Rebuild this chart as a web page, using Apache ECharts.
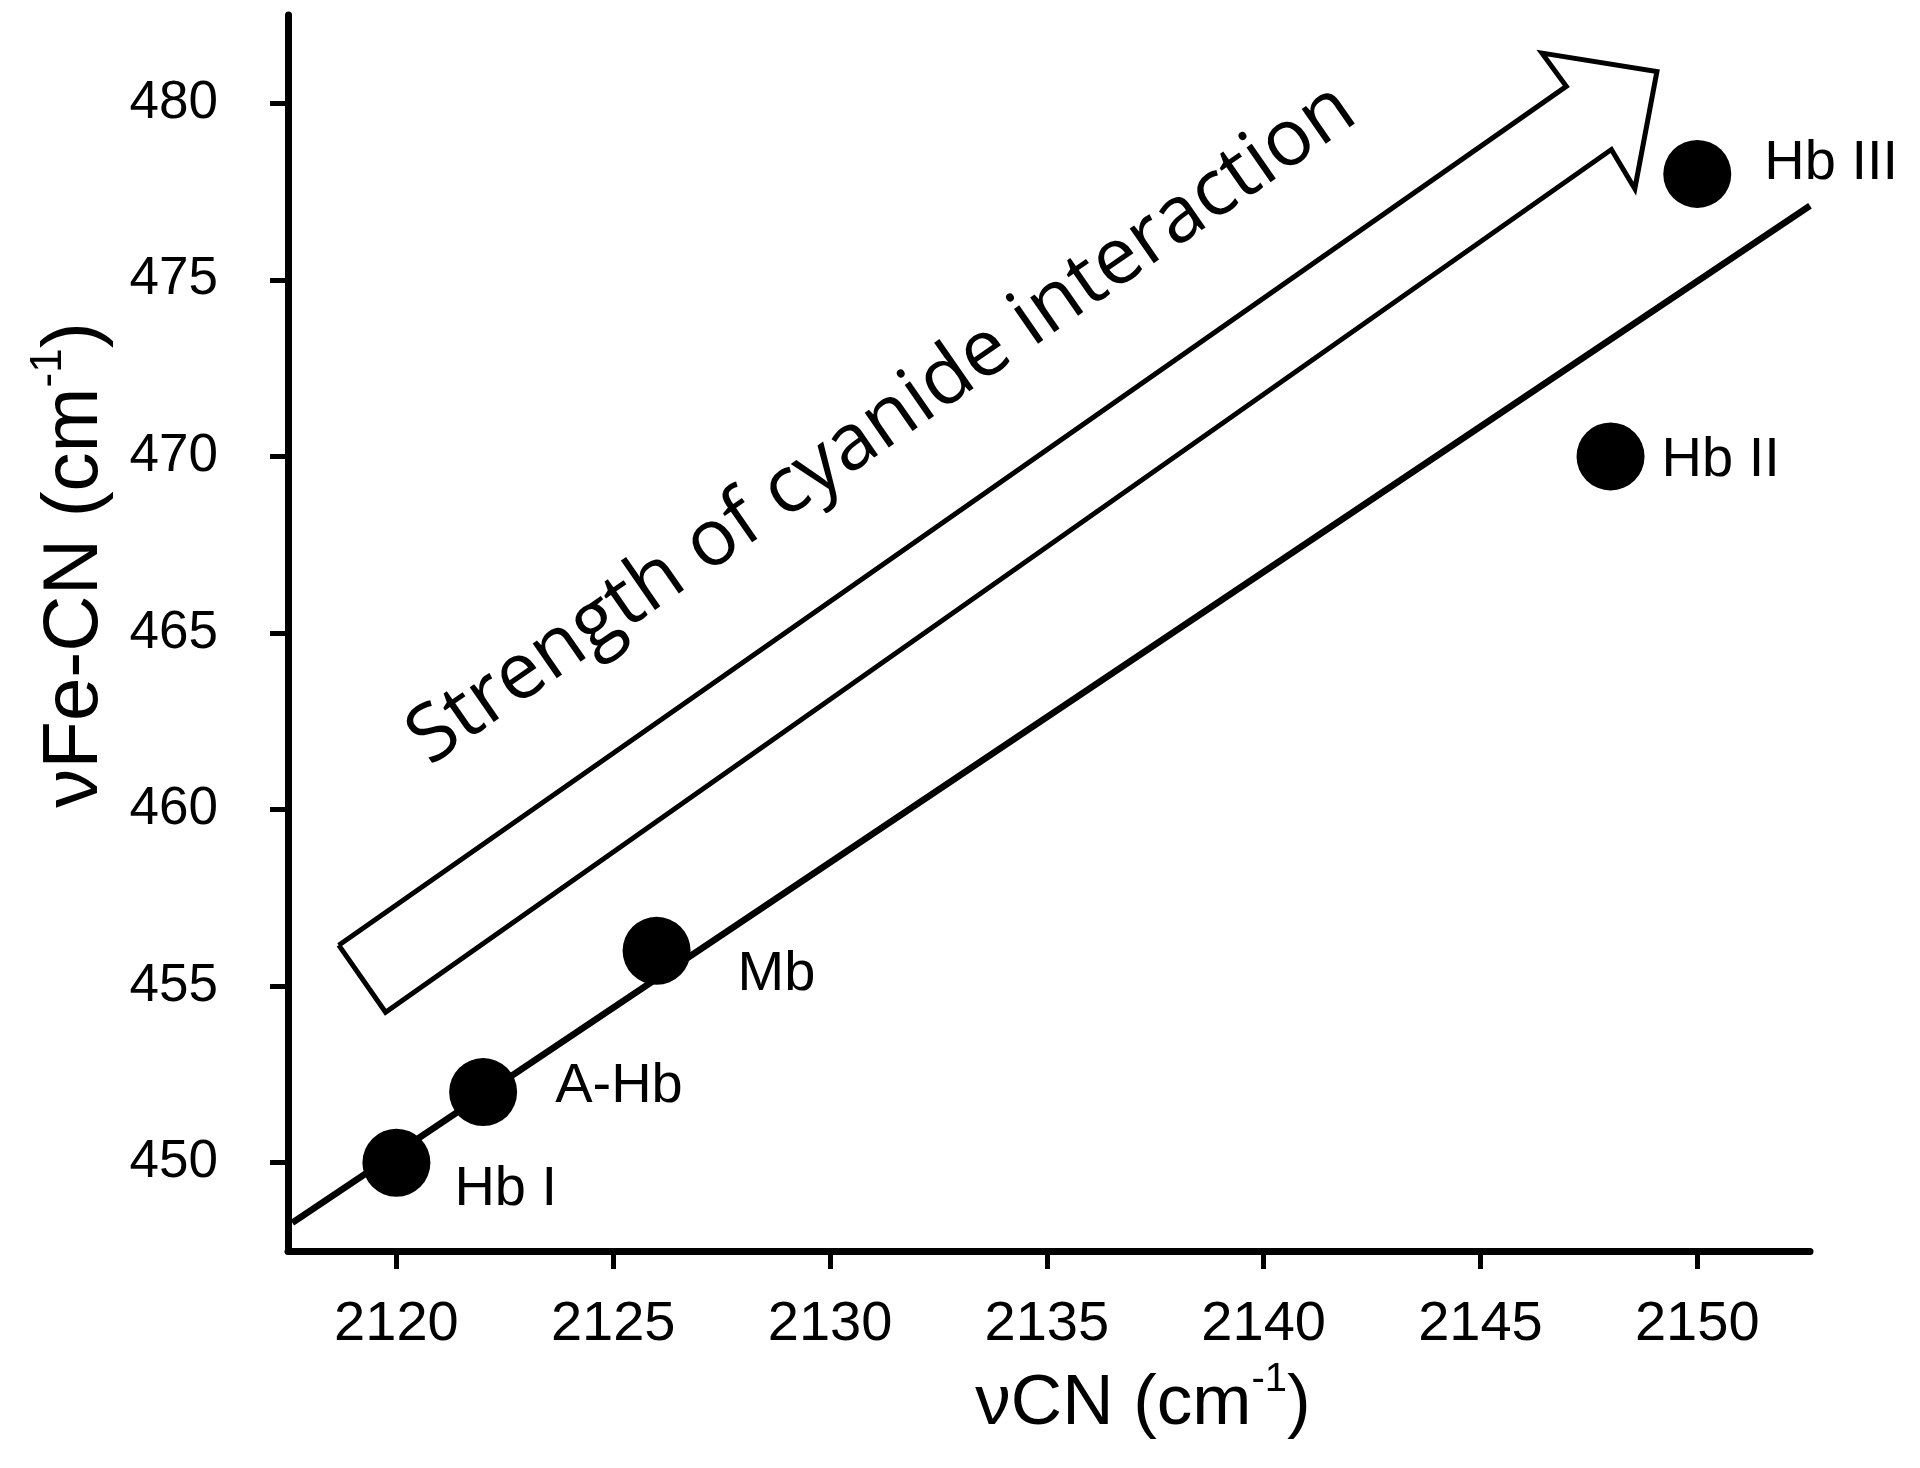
<!DOCTYPE html>
<html>
<head>
<meta charset="utf-8">
<script src="https://cdn.jsdelivr.net/npm/echarts@6/dist/echarts.min.js"></script>
<style>
html,body{margin:0;padding:0;background:#fff;}
#chart{width:1920px;height:1468px;}
</style>
</head>
<body>
<div id="chart"></div>
<script>
// ---- data ----
const sampleNames = ['Hb I', 'A-Hb', 'Mb', 'Hb II', 'Hb III'];
const vCN = [2120, 2122, 2126, 2148, 2150];
const vFeCN = [450, 452, 456, 470, 478];
const fitLineX = [2117.6, 2152.6];
const fitLineY = [448.3, 477.1];
const arrowX = [2118.67, 2146.98, 2146.42, 2149.07, 2148.56, 2148.02, 2119.75, 2118.67];
const arrowY = [456.16, 480.48, 481.42, 480.90, 477.58, 478.69, 454.26, 456.16];
const arrowText = 'Strength of cyanide interaction';
const arrowTextPos = [2131.2, 470.9];
const xTicks = [2120, 2125, 2130, 2135, 2140, 2145, 2150];
const yTicks = [450, 455, 460, 465, 470, 475, 480];

// ---- styling (positions of labels relative to points) ----
const labelOffsets = [[19, 27], [33, -6], [42, 24], [12, 4], [28, -10]];

const FONT = '"Liberation Sans", Arial, sans-serif';
const chart = echarts.init(document.getElementById('chart'));

const pointData = vCN.map((x, i) => ({
  value: [x, vFeCN[i]],
  name: sampleNames[i],
  label: { offset: labelOffsets[i] }
}));

chart.setOption({
  backgroundColor: '#fff',
  animation: false,
  grid: { left: 288, right: 110, top: 15, bottom: 217 },
  xAxis: {
    type: 'value', min: 2117.5, max: 2152.6,
    axisLine: { show: true, lineStyle: { color: '#000', width: 7, cap: 'round' } },
    axisTick: { show: true, inside: false, length: 18, customValues: xTicks,
      lineStyle: { color: '#000', width: 5 } },
    axisLabel: { show: true, customValues: xTicks, margin: 46,
      formatter: v => String(v),
      color: '#000', fontSize: 56, fontFamily: FONT },
    splitLine: { show: false }
  },
  yAxis: {
    type: 'value', min: 447.5, max: 482.5,
    axisLine: { show: true, lineStyle: { color: '#000', width: 7, cap: 'round' } },
    axisTick: { show: true, inside: false, length: 18, customValues: yTicks,
      lineStyle: { color: '#000', width: 5 } },
    axisLabel: { show: true, customValues: yTicks, margin: 70,
      formatter: v => String(v),
      color: '#000', fontSize: 53, fontFamily: FONT },
    splitLine: { show: false }
  },
  graphic: [
    {
      type: 'text', x: 1143, y: 1404,
      style: {
        text: '{a|νCN (cm}{s|-1}{a|)}',
        align: 'center', verticalAlign: 'middle',
        rich: {
          a: { fontSize: 71, fontFamily: FONT, fill: '#000', lineHeight: 88 },
          s: { fontSize: 40, fontFamily: FONT, fill: '#000', lineHeight: 48, verticalAlign: 'top' }
        }
      }
    },
    {
      type: 'text', x: 75, y: 565, rotation: Math.PI / 2,
      style: {
        text: '{a|νFe-CN (cm}{s|-1}{a|)}',
        align: 'center', verticalAlign: 'middle',
        rich: {
          a: { fontSize: 78, fontFamily: FONT, fill: '#000', lineHeight: 96 },
          s: { fontSize: 44, fontFamily: FONT, fill: '#000', lineHeight: 52, verticalAlign: 'top' }
        }
      }
    }
  ],
  series: [
    {
      type: 'line', name: 'arrow',
      data: arrowX.map((x, i) => [x, arrowY[i]]),
      symbol: 'none', silent: true, clip: false,
      lineStyle: { color: '#000', width: 5, join: 'miter', miterLimit: 20, opacity: 1 },
      z: 2
    },
    {
      type: 'line', name: 'fit',
      data: fitLineX.map((x, i) => [x, fitLineY[i]]),
      symbol: 'none', silent: true,
      lineStyle: { color: '#000', width: 6.5, opacity: 1 },
      z: 3
    },
    {
      type: 'scatter', name: 'samples',
      data: pointData,
      symbol: 'circle', symbolSize: 68,
      itemStyle: { color: '#000', opacity: 1 },
      label: {
        show: true, position: 'right', formatter: '{b}',
        color: '#000', opacity: 1, fontSize: 56, fontFamily: FONT
      },
      z: 4
    },
    {
      type: 'scatter', name: 'arrowLabel',
      data: [{ value: arrowTextPos, name: arrowText }],
      symbolSize: 0, silent: true,
      itemStyle: { opacity: 1 },
      label: {
        show: true, position: 'inside', formatter: '{b}', rotate: 34.8,
        color: '#000', opacity: 1, fontSize: 79, fontFamily: '"Open Sans", sans-serif'
      },
      z: 5
    }
  ]
});
</script>
</body>
</html>
